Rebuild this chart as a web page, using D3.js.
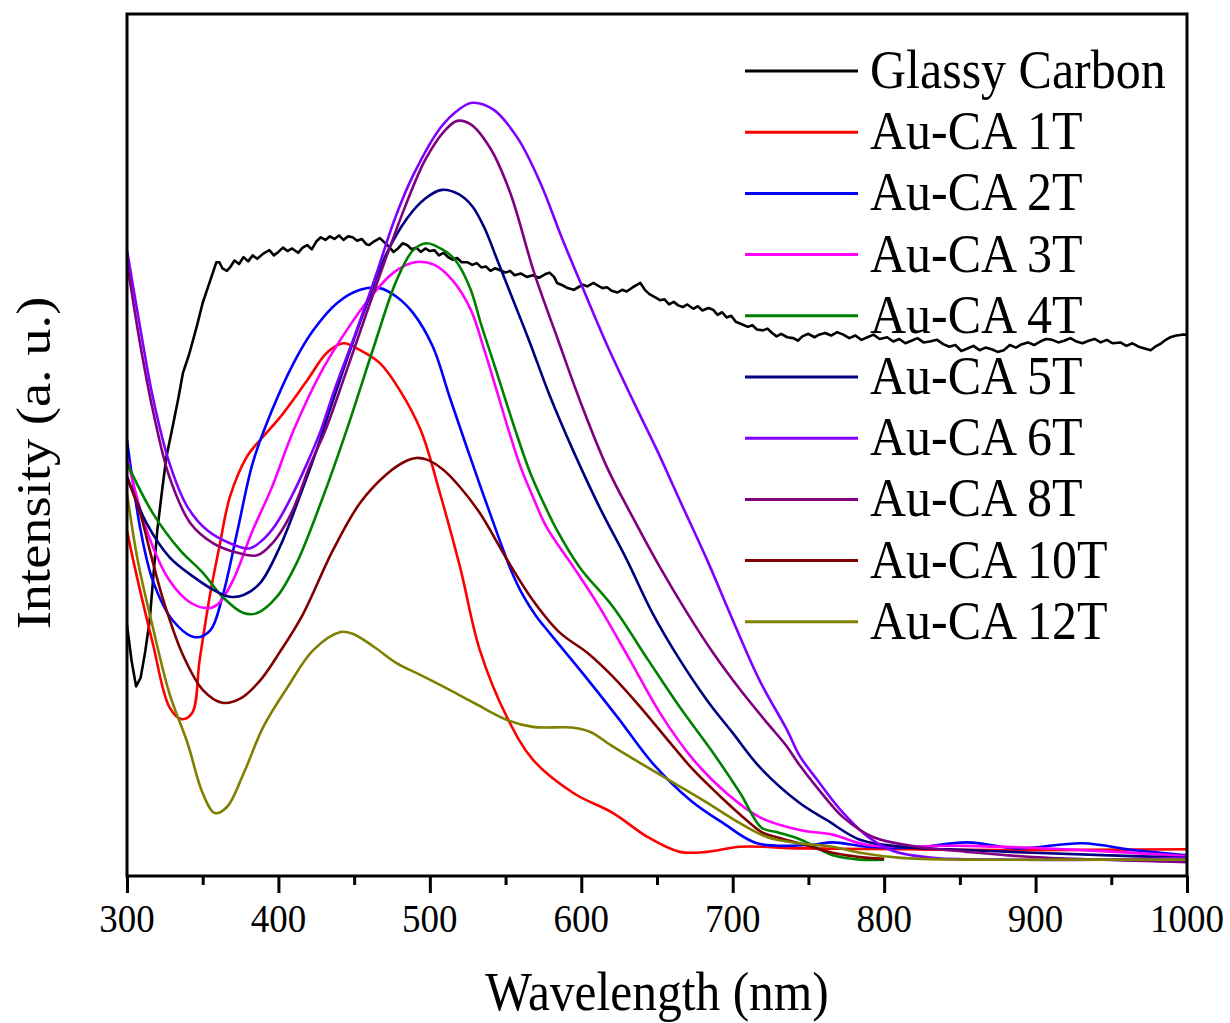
<!DOCTYPE html>
<html>
<head>
<meta charset="utf-8">
<script src="https://cdn.jsdelivr.net/npm/d3@7"></script>
<style>
  html, body { margin: 0; padding: 0; background: #fff; }
  svg text { font-family: "Liberation Serif", "Times New Roman", serif; fill: #000; }
</style>
</head>
<body>
<svg id="chart" width="1230" height="1023"></svg>
<script>
// ---------------- DATA ----------------
const seriesNames = ["Glassy Carbon", "Au-CA 1T", "Au-CA 2T", "Au-CA 3T", "Au-CA 4T",
  "Au-CA 5T", "Au-CA 6T", "Au-CA 8T", "Au-CA 10T", "Au-CA 12T"];
const seriesColors = ["#000000", "#FF0000", "#0000FF", "#FF00FF", "#008000",
  "#000080", "#8000FF", "#800080", "#800000", "#808000"];

const xTicks = [300, 400, 500, 600, 700, 800, 900, 1000];
const xMinorTicks = [350, 450, 550, 650, 750, 850, 950];
const xLabel = "Wavelength (nm)";
const yLabel = "Intensity (a. u.)";

// Glassy Carbon (noisy trace)
const wlGC = [300,303,306,309,312,315,318,320,323,326,330,334,337,341,346,350,355,359,361,363,366,368,371,374,377,380,383,386,390,394,397,400,403,406,409,413,416,419,422,425,428,431,434,437,440,443,446,449,452,455,458,460,463,467,470,473,476,479,482,485,488,491,494,497,500,503,506,509,512,515,518,521,525,528,531,534,537,540,543,546,550,553,556,560,564,568,572,576,579,582,584,588,591,595,598,601,604,608,611,614,617,620,624,627,630,634,637,639,642,645,648,652,655,658,661,664,667,670,674,677,680,684,687,690,693,696,699,702,706,710,713,716,720,723,726,729,732,736,740,743,746,750,754,757,761,765,769,773,777,781,785,789,793,797,802,806,810,814,818,822,826,830,835,839,843,847,851,855,859,863,867,871,875,879,883,887,891,895,899,903,907,911,915,919,923,927,931,935,939,943,947,951,956,960,964,968,972,976,979,983,986,989,993,997,1000];
const inGC = [29.1,25.0,22.0,23.0,26.0,29.7,36.0,40.1,44.5,48.6,52.0,55.5,58.4,60.5,63.7,66.5,69.1,71.2,71.2,70.5,70.2,70.6,71.4,71.0,71.8,71.3,72.0,71.6,72.2,72.6,72.0,72.4,72.9,72.5,72.8,72.3,72.9,73.2,72.7,73.6,74.1,73.8,74.2,73.9,74.3,73.8,74.2,74.1,73.7,73.9,73.3,73.2,73.6,74.0,73.5,73.0,72.4,72.8,73.4,73.2,72.7,72.9,72.4,72.8,72.5,72.6,72.0,72.3,71.8,71.5,71.7,71.2,71.2,70.9,71.1,70.6,70.7,70.2,70.5,70.3,70.0,70.2,69.7,69.9,69.5,69.7,69.4,69.8,70.0,69.5,68.8,68.5,68.2,68.0,68.3,68.6,68.4,68.8,68.5,68.2,68.3,67.9,67.7,68.0,67.8,68.3,68.6,68.8,68.0,67.5,67.2,66.8,66.9,66.3,66.6,66.2,66.0,66.3,65.8,66.1,65.6,65.9,65.7,65.1,65.4,64.8,65.0,64.3,64.0,63.7,63.9,63.4,63.3,63.5,63.0,62.6,62.9,62.5,62.4,62.1,62.6,62.9,62.5,62.8,63.0,62.7,63.1,62.8,62.4,62.7,62.2,62.5,62.8,62.3,62.5,62.0,62.3,61.8,62.1,62.4,61.9,62.0,62.2,61.7,61.4,61.6,60.9,61.2,61.5,61.0,61.3,61.1,60.8,61.0,61.6,61.3,61.7,61.9,61.6,62.0,62.3,62.2,61.9,62.1,62.4,62.0,61.8,62.1,62.3,61.9,62.2,61.8,61.9,61.5,61.8,61.4,61.2,61.0,61.4,61.8,62.2,62.5,62.7,62.8,62.8];

// Au-CA 1T
const wl1T = [300,304,317,328,336,343,348,355,361,368,379,388,401,419,432,443,454,467,480,494,507,520,533,551,568,595,621,644,665,683,705,745,811,877,1000];
const in1T = [40.1,36.7,27.0,19.6,18.2,18.9,25.1,32.8,38.2,44.0,48.6,50.6,53.2,57.5,60.7,61.8,61.0,59.5,56.4,51.7,44.2,35.8,26.2,18.4,13.5,9.6,7.3,4.5,2.8,2.8,3.4,3.2,3.1,3.0,3.1];

// Au-CA 2T
const wl2T = [300,309,317,330,345,355,363,373,383,395,410,423,439,454,467,478,489,502,513,529,546,554,562,570,579,601,624,647,672,694,716,751,766,789,820,855,888,931,965,1000];
const in2T = [50.6,40.1,34.3,29.7,27.7,28.5,32.4,40.1,47.9,53.7,59.5,63.3,66.5,68.0,68.2,67.2,65.3,61.4,55.6,47.4,39.0,35.3,32.4,30.2,28.2,23.5,18.4,13.1,8.8,6.1,3.8,3.6,3.9,3.4,3.3,3.9,3.2,3.8,3.0,2.4];

// Au-CA 3T
const wl3T = [300,313,328,342,355,361,370,383,395,410,428,445,461,476,490,503,515,527,536,544,552,560,568,577,595,612,632,652,674,696,718,745,766,789,855,931,1000];
const in3T = [48.6,40.1,34.3,31.7,31.1,31.7,34.3,40.1,44.8,51.7,58.4,63.3,67.2,70.0,71.2,70.9,69.1,65.7,61.0,56.4,51.7,47.4,44.0,40.5,35.8,31.2,25.1,18.9,13.5,9.6,6.8,5.3,4.8,3.6,3.5,3.0,2.3];

// Au-CA 4T
const wl4T = [300,317,335,350,363,377,386,399,412,428,445,463,478,489,498,509,515,519,527,534,542,550,558,566,575,584,599,621,644,665,687,705,719,729,745,766,784,800];
const in4T = [47.9,42.1,37.8,35.2,32.4,30.5,30.5,32.4,36.3,43.3,51.7,61.4,69.1,72.6,73.4,72.6,71.8,70.9,68.0,63.9,59.6,55.2,50.9,46.9,43.3,40.1,35.8,31.2,25.1,19.6,14.3,9.6,5.6,5.1,4.2,2.4,1.9,1.9];

// Au-CA 5T
const wl5T = [300,313,328,344,357,368,377,388,401,414,424,434,444,457,470,485,497,508,519,528,536,544,553,566,579,595,612,630,647,665,683,700,718,744,762,784,811,855,898,1000];
const in5T = [46.3,40.9,37.0,34.7,33.2,32.4,32.6,34.0,38.2,44.0,48.8,54.1,59.3,65.7,71.7,76.3,78.6,79.6,79.1,77.7,75.2,71.7,67.7,61.9,55.8,49.2,42.8,36.7,30.5,25.1,20.4,16.6,12.6,8.5,6.5,4.2,3.4,3.0,2.7,2.1];

// Au-CA 6T
const wl6T = [300,309,317,328,340,353,368,381,389,398,408,419,428,437,451,464,477,489,507,519,528,542,558,573,587,601,617,634,650,665,683,700,718,736,744,756,771,789,806,832,877,943,1000];
const in6T = [72.6,63.3,55.6,47.9,42.8,40.1,38.6,38.0,38.9,40.7,43.8,47.9,51.7,56.4,63.0,69.5,76.3,81.3,86.8,88.9,89.7,88.9,85.6,80.4,74.1,68.2,61.6,55.2,49.4,43.6,36.7,29.7,22.6,16.9,14.0,11.1,7.7,4.6,2.9,2.1,1.9,1.9,2.1];

// Au-CA 8T
const wl8T = [300,309,317,328,342,357,373,386,396,408,421,431,444,457,470,484,497,510,518,527,540,553,569,584,599,617,634,652,670,687,705,723,735,744,756,773,793,822,855,898,1000];
const in8T = [71.2,61.4,54.1,46.3,40.9,38.6,37.5,37.2,38.6,41.9,47.7,51.7,58.1,64.7,71.2,77.8,83.1,86.5,87.6,87.2,84.4,79.3,69.9,62.5,55.2,47.4,41.6,35.8,30.5,25.9,21.6,17.7,15.2,12.9,10.2,6.8,4.5,3.4,2.8,2.2,1.6];

// Au-CA 10T
const wl10T = [300,309,315,324,337,350,363,375,388,401,416,436,454,472,485,491,498,509,520,533,551,568,586,604,621,639,657,674,692,709,720,729,744,766,789,800];
const in10T = [46.3,41.9,37.8,32.0,25.6,21.6,20.1,20.6,22.7,26.0,30.3,37.8,43.3,46.7,48.2,48.5,48.3,47.1,45.1,42.1,36.7,32.0,28.2,25.9,23.1,19.6,15.8,12.3,9.2,6.5,5.0,4.5,3.8,2.7,2.1,2.0];

// Au-CA 12T
const wl12T = [300,307,317,328,340,350,358,366,377,390,406,423,441,449,463,478,494,513,529,551,568,595,606,621,639,661,683,705,723,744,766,784,811,855,921,1000];
const in12T = [44.4,36.7,28.9,21.2,15.4,9.6,7.3,8.0,11.9,17.3,21.9,26.2,28.3,28.1,26.6,24.7,23.3,21.6,20.1,18.1,17.3,17.2,16.7,15.0,13.1,10.8,8.5,6.1,4.5,3.8,3.4,2.7,2.1,1.9,1.9,1.9];

const wavelengths = [wlGC, wl1T, wl2T, wl3T, wl4T, wl5T, wl6T, wl8T, wl10T, wl12T];
const intensities = [inGC, in1T, in2T, in3T, in4T, in5T, in6T, in8T, in10T, in12T];

// ---------------- DRAWING ----------------
const svg = d3.select("#chart");
const L = 127, R = 1187, T = 14, B = 876;
const STRETCH = 1.1;   // reference text is slightly taller than wide

const x = d3.scaleLinear().domain([300, 1000]).range([L, R]);
const y = d3.scaleLinear().domain([0, 100]).range([B, T]);

const lineSmooth = d3.line().x(d => x(d[0])).y(d => y(d[1])).curve(d3.curveCatmullRom.alpha(0.5));
const lineRaw = d3.line().x(d => x(d[0])).y(d => y(d[1])).curve(d3.curveLinear);

const gLines = svg.append("g");
seriesNames.forEach((name, i) => {
  const pts = wavelengths[i].map((w, k) => [w, intensities[i][k]]);
  gLines.append("path")
    .datum(pts)
    .attr("fill", "none")
    .attr("stroke", seriesColors[i])
    .attr("stroke-width", 2.6)
    .attr("stroke-linejoin", "round")
    .attr("d", i === 0 ? lineRaw : lineSmooth);
});

// frame
svg.append("rect")
  .attr("x", L).attr("y", T)
  .attr("width", R - L).attr("height", B - T)
  .attr("fill", "none").attr("stroke", "#000").attr("stroke-width", 3);

// bottom axis: major ticks
const xAxis = d3.axisBottom(x).tickValues(xTicks).tickSize(17).tickSizeOuter(0).tickFormat("");
const gx = svg.append("g").attr("transform", `translate(0,${B})`).call(xAxis);
gx.select(".domain").remove();
gx.selectAll(".tick line").attr("stroke", "#000").attr("stroke-width", 3);

// minor ticks
const xMinor = d3.axisBottom(x).tickValues(xMinorTicks).tickSize(9).tickSizeOuter(0).tickFormat("");
const gxm = svg.append("g").attr("transform", `translate(0,${B})`).call(xMinor);
gxm.select(".domain").remove();
gxm.selectAll(".tick line").attr("stroke", "#000").attr("stroke-width", 3);

// tick labels (drawn from the same scale, vertically stretched like the reference)
svg.append("g").selectAll("text")
  .data(xTicks)
  .join("text")
  .attr("transform", d => `translate(${x(d)},932) scale(1,${STRETCH})`)
  .attr("text-anchor", "middle")
  .attr("font-size", 37)
  .text(d => d3.format("d")(d));

// axis titles
svg.append("text")
  .attr("transform", `translate(${(L + R) / 2},1010) scale(1,${STRETCH})`)
  .attr("text-anchor", "middle")
  .attr("font-size", 49.5)
  .text(xLabel);

svg.append("text")
  .attr("transform", `translate(50,463) scale(1,${STRETCH}) rotate(-90)`)
  .attr("text-anchor", "middle")
  .attr("font-size", 49.5)
  .text(yLabel);

// legend
const legend = svg.append("g");
seriesNames.forEach((name, i) => {
  const cy = 71 + i * 61.2;
  legend.append("line")
    .attr("x1", 745).attr("x2", 858)
    .attr("y1", cy).attr("y2", cy)
    .attr("stroke", seriesColors[i]).attr("stroke-width", 3);
  legend.append("text")
    .attr("transform", `translate(870,${cy + 17}) scale(1,${STRETCH})`)
    .attr("font-size", 50)
    .text(name);
});
</script>
</body>
</html>
